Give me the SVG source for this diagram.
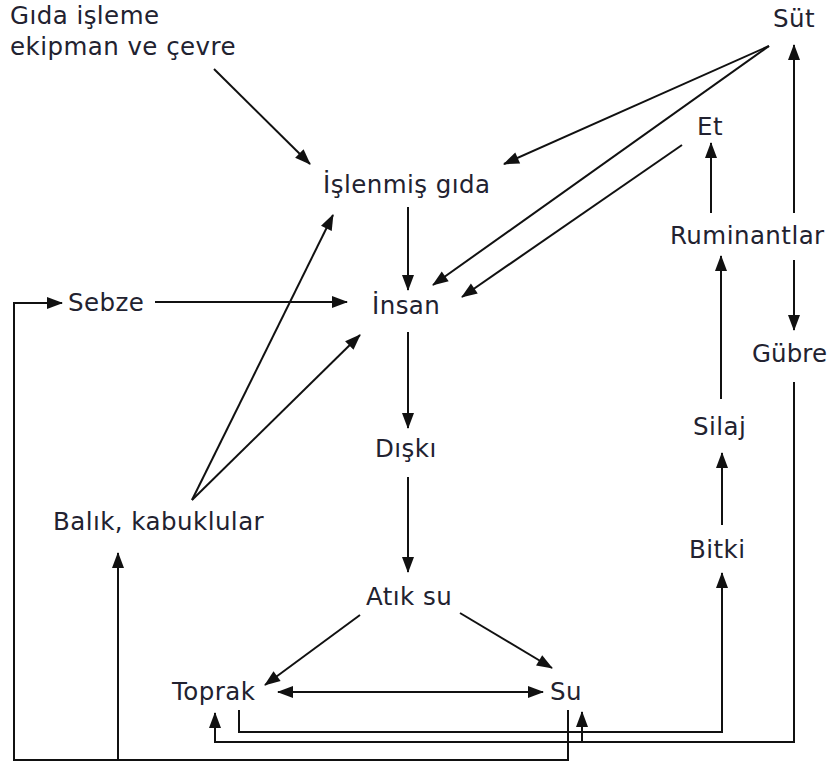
<svg xmlns="http://www.w3.org/2000/svg" width="830" height="764" viewBox="0 0 830 764">
<style>
  text { font-family: "DejaVu Sans", Verdana, sans-serif; font-size: 24.5px; fill: #222230; letter-spacing: 0.45px; }
  .c { fill: none; stroke: #111; stroke-width: 2; }
  .a { marker-end: url(#ah); }
</style>
<defs>
  <marker id="ah" markerUnits="userSpaceOnUse" markerWidth="17" markerHeight="13" viewBox="0 0 16 13" refX="15" refY="6.5" orient="auto">
    <path d="M0,0.5 L16,6.5 L0,12.5 z" fill="#111"/>
  </marker>
  <marker id="as" markerUnits="userSpaceOnUse" markerWidth="17" markerHeight="13" viewBox="0 0 16 13" refX="1" refY="6.5" orient="auto">
    <path d="M16,0.5 L0,6.5 L16,12.5 z" fill="#111"/>
  </marker>
</defs>
<rect width="830" height="764" fill="#fff"/>
<g id="connectors">
  <line class="c a" x1="214" y1="69" x2="310" y2="164"/>
  <line class="c a" x1="769" y1="46" x2="504" y2="164"/>
  <line class="c a" x1="769" y1="46" x2="433" y2="285"/>
  <line class="c a" x1="682" y1="145" x2="462" y2="297"/>
  <line class="c a" x1="711" y1="213" x2="711" y2="143"/>
  <line class="c a" x1="794" y1="213" x2="794" y2="45"/>
  <line class="c a" x1="794" y1="260" x2="794" y2="330"/>
  <line class="c a" x1="721" y1="399" x2="721" y2="256"/>
  <line class="c a" x1="722" y1="525" x2="722" y2="453"/>
  <polyline class="c a" points="239,710 239,732 722,732 722,573"/>
  <polyline class="c a" points="794,382 794,742 215,742 215,713"/>
  <line class="c a" x1="582" y1="742" x2="582" y2="712"/>
  <polyline class="c a" points="568,710 568,760 14,760 14,303 62,303"/>
  <line class="c a" x1="118" y1="760" x2="118" y2="553"/>
  <line class="c a" x1="155" y1="302" x2="347" y2="302"/>
  <line class="c a" x1="192" y1="500" x2="333" y2="215"/>
  <line class="c a" x1="192" y1="500" x2="360" y2="335"/>
  <line class="c a" x1="408" y1="207" x2="408" y2="290"/>
  <line class="c a" x1="408" y1="332" x2="408" y2="428"/>
  <line class="c a" x1="408" y1="477" x2="408" y2="572"/>
  <line class="c a" x1="360" y1="615" x2="265" y2="685"/>
  <line class="c a" x1="460" y1="613" x2="552" y2="668"/>
  <line class="c a" x1="278" y1="692" x2="543" y2="692" marker-start="url(#as)"/>
</g>
<g id="gida-isleme"><text x="10" y="24">Gıda işleme</text><text x="10" y="55">ekipman ve çevre</text></g>
<g id="sut"><text x="773" y="27">Süt</text></g>
<g id="et"><text x="697" y="135">Et</text></g>
<g id="islenmis-gida"><text x="323" y="193">İşlenmiş gıda</text></g>
<g id="ruminantlar"><text x="670" y="244">Ruminantlar</text></g>
<g id="sebze"><text x="68" y="311">Sebze</text></g>
<g id="insan"><text x="372" y="314">İnsan</text></g>
<g id="gubre"><text x="752" y="362" style="letter-spacing:0.1px">Gübre</text></g>
<g id="silaj"><text x="693" y="435">Silaj</text></g>
<g id="diski"><text x="375" y="457">Dışkı</text></g>
<g id="balik"><text x="53" y="530">Balık, kabuklular</text></g>
<g id="bitki"><text x="689" y="558">Bitki</text></g>
<g id="atik-su"><text x="366" y="605">Atık su</text></g>
<g id="toprak"><text x="172" y="700">Toprak</text></g>
<g id="su"><text x="550" y="700">Su</text></g>
</svg>
